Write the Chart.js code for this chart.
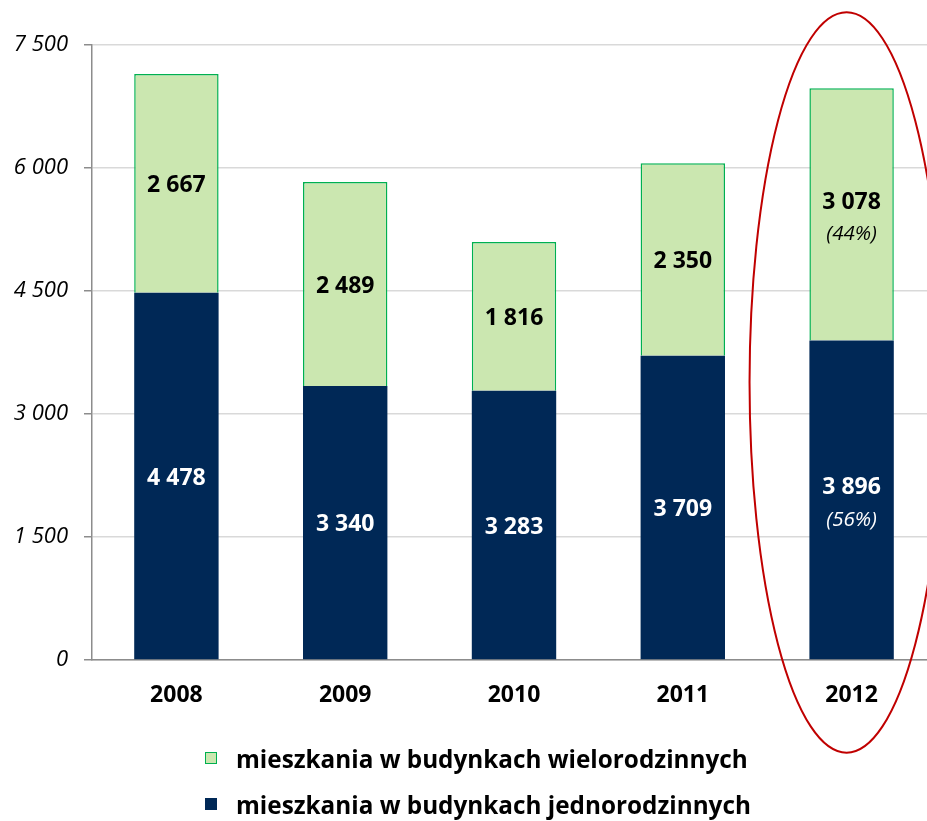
<!DOCTYPE html>
<html>
<head>
<meta charset="utf-8">
<script src="https://cdn.jsdelivr.net/npm/chart.js@4"></script>
<style>
  html, body { margin: 0; padding: 0; background: #fff; overflow: hidden; width: 927px; height: 821px; }
  #wrap { position: relative; width: 927px; height: 821px; overflow: hidden; }
  #chart { position: absolute; left: 0; top: 0; }
  #legend { position: absolute; left: 205px; top: 735px; font-family: "Open Sans", sans-serif; font-weight: bold; font-size: 24.3px; color: #000; }
  .item { display: flex; align-items: center; height: 46px; }
  .box { width: 10px; height: 10px; margin-right: 19px; border: 1px solid; }
</style>
</head>
<body>
<div id="wrap">
  <canvas id="chart" width="936" height="821"></canvas>
  <div id="legend"></div>
</div>
<script>
const years = ['2008', '2009', '2010', '2011', '2012'];
const singleFamily = [4478, 3340, 3283, 3709, 3896];
const multiFamily = [2667, 2489, 1816, 2350, 3078];
const singleShare = [null, null, null, null, '(56%)'];
const multiShare = [null, null, null, null, '(44%)'];
const yTicks = [0, 1500, 3000, 4500, 6000, 7500];
const highlight = { index: 4, top: 7900, bottom: -1130 };

const ctx = document.getElementById('chart').getContext('2d');

function fmt(v) {
    return String(v).replace(/\B(?=(\d{3})+(?!\d))/g, ' ');
}

const labelPlugin = {
    id: 'segmentLabels',
    afterDatasetsDraw(chart) {
        const c = chart.ctx;
        c.save();
        c.textAlign = 'center';
        c.textBaseline = 'middle';
        chart.data.datasets.forEach((ds, di) => {
            const meta = chart.getDatasetMeta(di);
            meta.data.forEach((bar, i) => {
                const mid = (bar.y + bar.base) / 2 + 2;
                const extra = ds.shares[i];
                const y0 = extra ? mid - 14 : mid;
                c.fillStyle = ds.textColor;
                c.font = 'bold 23px "Open Sans"';
                c.fillText(fmt(ds.data[i]), bar.x, y0);
                if (extra) {
                    c.font = 'italic 20.5px "Open Sans"';
                    c.fillText(extra, bar.x, y0 + 32);
                }
            });
        });
        c.restore();
    }
};

const ellipsePlugin = {
    id: 'highlightEllipse',
    afterDraw(chart) {
        const x = chart.scales.x, y = chart.scales.y;
        const cx = x.getPixelForValue(highlight.index) - 5;
        const top = y.getPixelForValue(highlight.top);
        const bot = y.getPixelForValue(highlight.bottom);
        const step = x.getPixelForValue(1) - x.getPixelForValue(0);
        const c = chart.ctx;
        c.save();
        c.strokeStyle = '#C00000';
        c.lineWidth = 2;
        c.beginPath();
        c.ellipse(cx, (top + bot) / 2, step * 0.575, (bot - top) / 2, 0, 0, Math.PI * 2);
        c.stroke();
        c.restore();
    }
};

let chart = new Chart(ctx, {
    type: 'bar',
    data: {
        labels: years,
        datasets: [{
            label: 'mieszkania w budynkach jednorodzinnych',
            data: singleFamily,
            shares: singleShare,
            textColor: '#ffffff',
            backgroundColor: '#002856',
            borderColor: '#002856',
            borderWidth: 0,
            categoryPercentage: 1,
            barPercentage: 0.5
        }, {
            label: 'mieszkania w budynkach wielorodzinnych',
            data: multiFamily,
            shares: multiShare,
            textColor: '#000000',
            backgroundColor: '#CBE7B0',
            borderColor: '#00B050',
            borderWidth: 1.5,
            categoryPercentage: 1,
            barPercentage: 0.5
        }]
    },
    options: {
        responsive: false,
        animation: false,
        layout: { padding: { top: 45, left: 0, right: 0, bottom: 91 } },
        plugins: { legend: { display: false }, tooltip: { enabled: false } },
        scales: {
            x: {
                stacked: true,
                grid: { drawOnChartArea: false, drawTicks: false, color: 'transparent' },
                border: { color: '#8c8c8c', width: 1.5 },
                ticks: { color: '#000', font: { family: 'Open Sans', weight: 'bold', size: 23 }, padding: 22 },
                afterFit(scale) { scale.height = 70; }
            },
            y: {
                stacked: true,
                min: 0,
                max: 7500,
                afterBuildTicks(scale) { scale.ticks = yTicks.map(v => ({ value: v })); },
                grid: { color: '#d9d9d9', lineWidth: 1.5, tickLength: 8, tickColor: '#8c8c8c' },
                border: { color: '#8c8c8c', width: 1.5 },
                ticks: {
                    color: '#000',
                    padding: 16,
                    font: { family: 'Open Sans', style: 'italic', size: 22 },
                    callback: v => fmt(v)
                },
                afterFit(scale) { scale.width = 92; }
            }
        }
    },
    plugins: [labelPlugin, ellipsePlugin]
});

// legend: wielorodzinne first, as in the source
const legend = document.getElementById('legend');
[1, 0].forEach(i => {
    const ds = chart.data.datasets[i];
    const row = document.createElement('div');
    row.className = 'item';
    const box = document.createElement('span');
    box.className = 'box';
    box.style.background = ds.backgroundColor;
    box.style.borderColor = ds.borderColor;
    row.appendChild(box);
    row.appendChild(document.createTextNode(ds.label));
    legend.appendChild(row);
});
</script>
</body>
</html>
